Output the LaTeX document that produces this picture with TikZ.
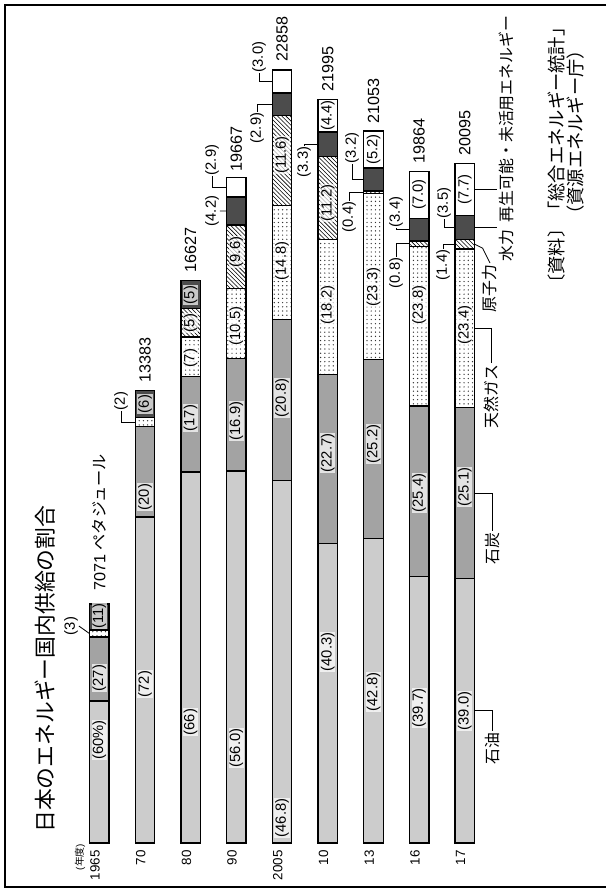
\documentclass[tikz,border=0pt]{standalone}
\usepackage{fontspec}
\setmainfont{Liberation Sans}
\newfontfamily\jp{Noto Sans CJK JP}
\usetikzlibrary{patterns}

\tikzset{
  seg/.style={draw, line width=.9pt, inner sep=0pt, outer sep=0pt, minimum width=.4875cm},
  oil/.style={fill=black!20},
  coal/.style={fill=black!36},
  gas/.style={pattern=dots, pattern color=black!80},
  nuc/.style={pattern=north west lines},
  hyd/.style={fill=black!70},
  ren/.style={fill=white},
  pct/.style={rotate=90, font=\fontsize{10.5}{11}\selectfont, inner sep=.5pt},
  inbar/.style={pct, fill=white, fill opacity=.7, text opacity=1},
  lead/.style={line width=.6pt},
  tot/.style={rotate=90, anchor=west, font=\fontsize{11.5}{12}\selectfont, inner sep=0pt},
  yr/.style={rotate=90, anchor=east, font=\fontsize{9.5}{10}\selectfont, inner sep=0pt},
  leg/.style={rotate=90, font=\jp\fontsize{11.3}{13}\selectfont, inner sep=1pt},
}

% one segment of a bar: name, style, left x, top y, bottom y
\newcommand{\seg}[5]{%
  \pgfmathsetmacro{\seglen}{(#5-#4)*0.025}%
  \node[seg,#2,minimum height=\seglen cm] (#1) at ({#3+9.75},{(#4+#5)/2}) {};}

\begin{document}
\begin{tikzpicture}[x=0.025cm, y=-0.025cm]
    \useasboundingbox (0,0) rectangle (606,889);
    \draw[line width=.8pt] (606,5) -- (5,5) -- (5,887) -- (606,887);

    \node[rotate=90, anchor=west, font=\jp\fontsize{15.5}{17}\selectfont, inner sep=0pt] (title) at (45,833) {日本のエネルギー国内供給の割合};
    \node[rotate=90, font=\fontsize{7}{8}\selectfont, inner sep=0pt] (unit) at (80,857) {({\jp\fontsize{7}{8}\selectfont 年度})};

    % 1965
    \seg{y65-oil}{oil}{89.5}{701.0}{843}
    \seg{y65-coal}{coal}{89.5}{637.1}{701.0}
    \seg{y65-gas}{gas}{89.5}{630.0}{637.1}
    \seg{y65-hyd}{hyd}{89.5}{604.0}{630.0}
    \node[inbar] (p65-oil) at (99.25,740) {(60\%)};
    \node[inbar] (p65-coal) at (99.25,678) {(27)};
    \node[inbar] (p65-hyd) at (99.25,616) {(11)};
    \node[pct] (p65-gas) at (71,626) {(3)};
    \draw[lead] (p65-gas.south) -- (y65-gas.west);
    \node[tot] (t65) at (99.25,591) {7071 {\jp ペタジュール}};
    \node[yr] (yr65) at (95,850) {1965};

    % 1970
    \seg{y70-oil}{oil}{135.2}{517.1}{843}
    \seg{y70-coal}{coal}{135.2}{426.6}{517.1}
    \seg{y70-gas}{gas}{135.2}{417.6}{426.6}
    \seg{y70-hyd}{hyd}{135.2}{390.4}{417.6}
    \node[inbar] (p70-oil) at (144.95,684) {(72)};
    \node[inbar] (p70-coal) at (144.95,497) {(20)};
    \node[inbar] (p70-hyd) at (144.95,404) {(6)};
    \node[pct] (p70-gas) at (121,401) {(2)};
    \draw[lead] (p70-gas.west) |- (y70-gas.west);
    \node[tot] (t70) at (144.95,383) {13383};
    \node[yr] (yr70) at (140.7,850) {70};

    % 1980
    \seg{y80-oil}{oil}{180.9}{471.9}{843}
    \seg{y80-coal}{coal}{180.9}{376.3}{471.9}
    \seg{y80-gas}{gas}{180.9}{336.9}{376.3}
    \seg{y80-nuc}{nuc}{180.9}{308.8}{336.9}
    \seg{y80-hyd}{hyd}{180.9}{280.7}{308.8}
    \node[inbar] (p80-oil) at (190.65,722) {(66)};
    \node[inbar] (p80-coal) at (190.65,418) {(17)};
    \node[inbar] (p80-gas) at (190.65,358) {(7)};
    \node[inbar] (p80-nuc) at (190.65,323) {(5)};
    \node[inbar] (p80-hyd) at (190.65,295) {(5)};
    \node[tot] (t80) at (190.65,273) {16627};
    \node[yr] (yr80) at (186.4,850) {80};

    % 1990
    \seg{y90-oil}{oil}{226.6}{470.9}{843}
    \seg{y90-coal}{coal}{226.6}{358.6}{470.9}
    \seg{y90-gas}{gas}{226.6}{288.8}{358.6}
    \seg{y90-nuc}{nuc}{226.6}{225.0}{288.8}
    \seg{y90-hyd}{hyd}{226.6}{197.1}{225.0}
    \seg{y90-ren}{ren}{226.6}{177.8}{197.1}
    \node[inbar] (p90-oil) at (236.35,748) {(56.0)};
    \node[inbar] (p90-coal) at (236.35,421) {(16.9)};
    \node[inbar] (p90-gas) at (236.35,326) {(10.5)};
    \node[inbar] (p90-nuc) at (236.35,252) {(9.6)};
    \node[pct] (p90-hyd) at (212,211) {(4.2)};
    \draw[lead] (p90-hyd.south) -- (y90-hyd.west);
    \node[pct] (p90-ren) at (212,160) {(2.9)};
    \draw[lead] (p90-ren.west) |- (y90-ren.west);
    \node[tot] (t90) at (236.35,172) {19667};
    \node[yr] (yr90) at (232.1,850) {90};

    % 2005
    \seg{y05-oil}{oil}{272.3}{480.8}{843}
    \seg{y05-coal}{coal}{272.3}{319.8}{480.8}
    \seg{y05-gas}{gas}{272.3}{205.3}{319.8}
    \seg{y05-nuc}{nuc}{272.3}{115.5}{205.3}
    \seg{y05-hyd}{hyd}{272.3}{93.1}{115.5}
    \seg{y05-ren}{ren}{272.3}{69.9}{93.1}
    \node[inbar] (p05-oil) at (282.05,818) {(46.8)};
    \node[inbar] (p05-coal) at (282.05,398) {(20.8)};
    \node[inbar] (p05-gas) at (282.05,261) {(14.8)};
    \node[inbar] (p05-nuc) at (282.05,155) {(11.6)};
    \node[pct] (p05-hyd) at (257,128) {(2.9)};
    \draw[lead] (p05-hyd.east) |- (y05-hyd.west);
    \node[pct] (p05-ren) at (259,57) {(3.0)};
    \draw[lead] (p05-ren.west) |- (y05-ren.west);
    \node[tot] (t05) at (282.05,62) {22858};
    \node[yr] (yr05) at (277.8,850) {2005};

    % 2010
    \seg{y10-oil}{oil}{318}{543.5}{843}
    \seg{y10-coal}{coal}{318}{374.8}{543.5}
    \seg{y10-gas}{gas}{318}{239.6}{374.8}
    \seg{y10-nuc}{nuc}{318}{156.4}{239.6}
    \seg{y10-hyd}{hyd}{318}{131.9}{156.4}
    \seg{y10-ren}{ren}{318}{99.2}{131.9}
    \node[inbar] (p10-oil) at (327.75,652) {(40.3)};
    \node[inbar] (p10-coal) at (327.75,453) {(22.7)};
    \node[inbar] (p10-gas) at (327.75,305) {(18.2)};
    \node[inbar] (p10-nuc) at (327.75,203) {(11.2)};
    \node[inbar] (p10-ren) at (327.75,115.5) {(4.4)};
    \node[pct] (p10-hyd) at (304,162) {(3.3)};
    \draw[lead] (p10-hyd.east) |- (y10-hyd.west);
    \node[tot] (t10) at (327.75,92) {21995};
    \node[yr] (yr10) at (323.5,850) {10};

    % 2013
    \seg{y13-oil}{oil}{363.7}{538.6}{843}
    \seg{y13-coal}{coal}{363.7}{359.4}{538.6}
    \seg{y13-gas}{gas}{363.7}{193.7}{359.4}
    \seg{y13-nuc}{nuc}{363.7}{190.9}{193.7}
    \seg{y13-hyd}{hyd}{363.7}{168.1}{190.9}
    \seg{y13-ren}{ren}{363.7}{131.1}{168.1}
    \node[inbar] (p13-oil) at (373.45,692) {(42.8)};
    \node[inbar] (p13-coal) at (373.45,444) {(25.2)};
    \node[inbar] (p13-gas) at (373.45,287) {(23.3)};
    \node[inbar] (p13-ren) at (373.45,149.6) {(5.2)};
    \node[pct] (p13-nuc) at (349,217) {(0.4)};
    \draw[lead] (p13-nuc.east) |- (y13-nuc.west);
    \node[pct] (p13-hyd) at (352,148) {(3.2)};
    \draw[lead] (p13-hyd.west) |- (y13-hyd.west);
    \node[tot] (t13) at (373.45,124) {21053};
    \node[yr] (yr13) at (369.2,850) {13};

    % 2016
    \seg{y16-oil}{oil}{409.4}{576.6}{843}
    \seg{y16-coal}{coal}{409.4}{406.1}{576.6}
    \seg{y16-gas}{gas}{409.4}{246.4}{406.1}
    \seg{y16-nuc}{nuc}{409.4}{241.0}{246.4}
    \seg{y16-hyd}{hyd}{409.4}{218.2}{241.0}
    \seg{y16-ren}{ren}{409.4}{171.2}{218.2}
    \node[inbar] (p16-oil) at (419.15,708) {(39.7)};
    \node[inbar] (p16-coal) at (419.15,493) {(25.4)};
    \node[inbar] (p16-gas) at (419.15,305) {(23.8)};
    \node[inbar] (p16-ren) at (419.15,194.7) {(7.0)};
    \node[pct] (p16-nuc) at (396,273) {(0.8)};
    \draw[lead] (p16-nuc.east) |- (y16-nuc.west);
    \node[pct] (p16-hyd) at (396,212) {(3.4)};
    \draw[lead] (p16-hyd.west) |- (y16-hyd.west);
    \node[tot] (t16) at (419.15,164) {19864};
    \node[yr] (yr16) at (414.9,850) {16};

    % 2017
    \seg{y17-oil}{oil}{455.1}{578.2}{843}
    \seg{y17-coal}{coal}{455.1}{407.8}{578.2}
    \seg{y17-gas}{gas}{455.1}{248.9}{407.8}
    \seg{y17-nuc}{nuc}{455.1}{239.4}{248.9}
    \seg{y17-hyd}{hyd}{455.1}{215.6}{239.4}
    \seg{y17-ren}{ren}{455.1}{163.3}{215.6}
    \node[inbar] (p17-oil) at (464.85,711) {(39.0)};
    \node[inbar] (p17-coal) at (464.85,487) {(25.1)};
    \node[inbar] (p17-gas) at (464.85,325) {(23.4)};
    \node[inbar] (p17-ren) at (464.85,189.5) {(7.7)};
    \node[pct] (p17-nuc) at (443,265) {(1.4)};
    \draw[lead] (p17-nuc.east) |- (y17-nuc.west);
    \node[pct] (p17-hyd) at (444,203) {(3.5)};
    \draw[lead] (p17-hyd.west) |- (y17-hyd.west);
    \node[tot] (t17) at (464.85,156) {20095};
    \node[yr] (yr17) at (460.6,850) {17};

    % legend under the last bar
    \node[leg, anchor=east] (oil-lbl) at (492,731) {石油};
    \draw[lead] (y17-oil.east) -| (oil-lbl.east);
    \node[leg, anchor=east] (coal-lbl) at (492,531) {石炭};
    \draw[lead] (y17-coal.east) -| (coal-lbl.east);
    \node[leg, anchor=east] (gas-lbl) at (491,363) {天然ガス};
    \draw[lead] (y17-gas.east) -| (gas-lbl.east);
    \node[leg, anchor=east] (nuc-lbl) at (490,263) {原子力};
    \draw[lead] (y17-nuc.east) -- ++(8,4) -- (nuc-lbl.east);
    \node[leg, anchor=north east] (hyd-lbl) at (497,228) {水力};
    \draw[lead] (y17-hyd.east) -- (y17-hyd.east -| hyd-lbl.north);
    \node[leg, anchor=north west] (ren-lbl) at (497,224) {再生可能・未活用エネルギー};
    \draw[lead] (y17-ren.east) -- (y17-ren.east -| ren-lbl.north);

    % source
    \node[rotate=90, anchor=west, font=\jp\fontsize{13}{14}\selectfont, inner sep=0pt] (src1) at (557,293) {〔資料〕「総合エネルギー統計」};
    \node[rotate=90, anchor=west, font=\jp\fontsize{13}{14}\selectfont, inner sep=0pt] (src2) at (576,224) {（資源エネルギー庁）};
\end{tikzpicture}
\end{document}
